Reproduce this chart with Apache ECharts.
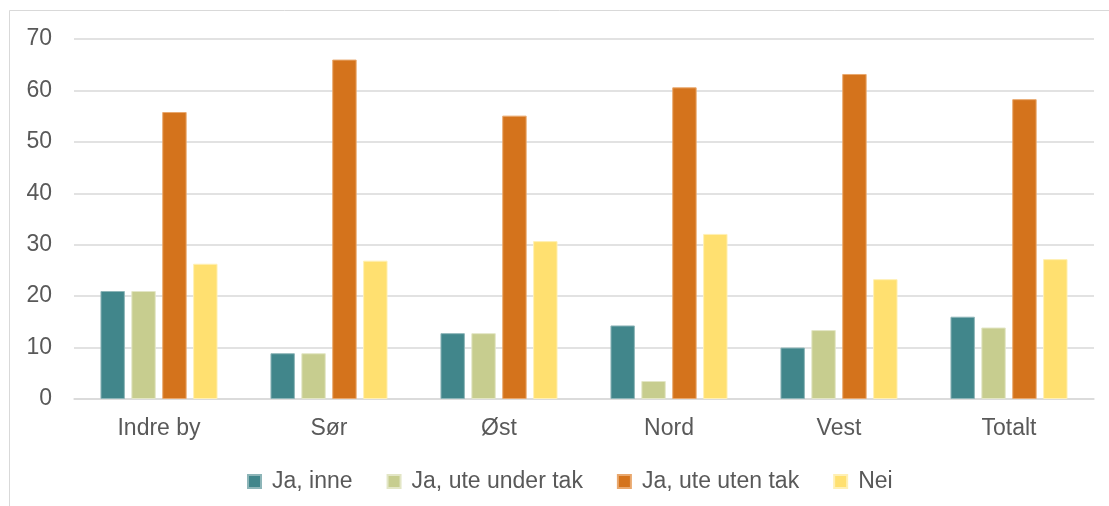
<!DOCTYPE html>
<html>
<head>
<meta charset="utf-8">
<script src="https://cdn.jsdelivr.net/npm/echarts@6/dist/echarts.min.js"></script>
<style>
html,body{margin:0;padding:0;background:#fff;}
#chart{width:1109px;height:506px;}
</style>
</head>
<body>
<div id="chart"></div>
<script>
const categories = ['Indre by', 'Sør', 'Øst', 'Nord', 'Vest', 'Totalt'];
const seriesNames = ['Ja, inne', 'Ja, ute under tak', 'Ja, ute uten tak', 'Nei'];
const jaInne = [21.0, 8.9, 12.8, 14.3, 10.0, 16.0];
const jaUteUnderTak = [21.0, 8.9, 12.8, 3.5, 13.4, 13.9];
const jaUteUtenTak = [55.8, 66.0, 55.1, 60.6, 63.2, 58.3];
const nei = [26.3, 26.9, 30.7, 32.1, 23.3, 27.2];
const yTicks = [0, 10, 20, 30, 40, 50, 60, 70];

const colors = ['#41868B', '#C7CD8F', '#D4731C', '#FFE070'];
const borders = ['#8DB5B8', '#E3E6C6', '#E9A86E', '#FFF0B5'];
const values = [jaInne, jaUteUnderTak, jaUteUtenTak, nei];
const font = 'Liberation Sans, Arial, sans-serif';
const textColor = '#595959';

const chart = echarts.init(document.getElementById('chart'), null, {renderer: 'canvas'});
chart.setOption({
  animation: false,
  backgroundColor: '#fff',
  graphic: [{
    type: 'rect',
    shape: {x: 9.5, y: 10.5, width: 1200, height: 600},
    style: {fill: 'none', stroke: '#d9d9d9', lineWidth: 1},
    silent: true, z: -1
  }],
  grid: {left: 74, right: 15, top: 39, bottom: 107, containLabel: false},
  legend: {
    data: seriesNames,
    left: 242,
    top: 465,
    itemWidth: 13,
    itemHeight: 13,
    itemGap: 34,
    icon: 'rect',
    textStyle: {color: textColor, fontSize: 23, fontFamily: font, padding: [0, 0, 0, 6]}
  },
  xAxis: {
    type: 'category',
    data: categories,
    axisLine: {show: true, lineStyle: {color: '#d9d9d9', width: 1.5}},
    axisTick: {show: false},
    axisLabel: {color: textColor, fontSize: 23, fontFamily: font, margin: 18}
  },
  yAxis: {
    type: 'value',
    min: yTicks[0],
    max: yTicks[yTicks.length - 1],
    interval: 10,
    axisLine: {show: false},
    axisTick: {show: false},
    splitLine: {lineStyle: {color: '#d9d9d9', width: 1.5}},
    axisLabel: {color: textColor, fontSize: 23, fontFamily: font, margin: 22}
  },
  series: seriesNames.map((name, i) => ({
    name: name,
    type: 'bar',
    data: values[i],
    barWidth: 24.4,
    barGap: '26.6%',
    itemStyle: {color: colors[i], borderColor: borders[i], borderWidth: 1}
  }))
});
</script>
</body>
</html>
